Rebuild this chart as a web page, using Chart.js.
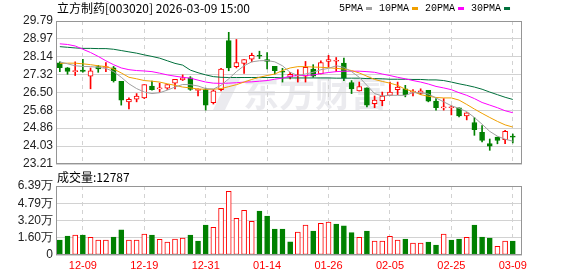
<!DOCTYPE html>
<html>
<head>
<meta charset="utf-8">
<script src="https://cdn.jsdelivr.net/npm/chart.js@4"></script>
<style>
body { margin: 0; background: #fff; }
#wrap { position: relative; width: 578px; height: 276px; }
canvas { position: absolute; left: 0; top: 0; }
</style>
</head>
<body>
<div id="wrap">
  <canvas id="priceChart" width="578" height="276"></canvas>
  <canvas id="volChart" width="578" height="276"></canvas>
</div>
<script>
// trading days
var dates = ['12-04','12-05','12-08','12-09','12-10','12-11','12-12','12-15','12-16','12-17',
  '12-18','12-19','12-22','12-23','12-24','12-25','12-26','12-29','12-30','12-31',
  '01-05','01-06','01-07','01-08','01-09','01-12','01-13','01-14','01-15','01-16',
  '01-19','01-20','01-21','01-22','01-23','01-26','01-27','01-28','01-29','01-30',
  '02-02','02-03','02-04','02-05','02-06','02-09','02-10','02-11','02-12','02-13',
  '02-24','02-25','02-26','02-27','03-02','03-03','03-04','03-05','03-06','03-09'];

var open = [27.87,27.63,27.46,27.53,27.25,27.69,27.65,27.63,27.01,26.07,
  26.19,26.25,26.80,26.67,26.70,26.93,27.08,27.17,26.60,26.64,
  26.03,26.63,28.89,27.69,27.84,28.03,28.20,28.02,27.70,27.46,
  27.20,27.27,27.25,27.58,27.35,27.93,27.94,27.85,26.96,26.57,
  26.72,25.99,26.12,26.37,26.63,26.67,26.52,26.46,26.60,26.10,
  25.79,25.80,25.80,25.42,25.12,24.67,24.15,24.45,24.33,24.48];
var high = [27.91,27.65,27.91,28.03,27.63,27.75,27.88,27.70,27.01,26.25,
  26.45,26.86,27.02,26.93,26.87,27.11,27.31,27.23,26.67,26.70,
  26.64,27.61,29.27,28.94,28.02,28.31,28.40,28.34,27.70,27.61,
  27.43,27.55,27.93,27.78,27.96,28.21,28.11,28.08,27.05,26.98,
  26.72,26.34,26.52,26.98,26.98,26.83,26.64,26.67,26.60,26.22,
  26.22,25.89,25.80,25.57,25.35,24.98,24.36,24.45,24.76,24.59];
var low = [27.46,27.34,27.28,27.44,26.67,27.43,27.46,26.98,25.92,25.74,
  26.07,26.22,26.61,26.52,26.64,26.67,27.05,26.60,26.34,25.69,
  25.97,26.57,27.50,27.63,27.38,27.91,28.06,27.58,27.35,26.98,
  27.13,26.98,26.98,27.20,27.35,27.66,27.47,27.05,26.45,26.57,
  25.84,25.80,25.89,26.37,26.40,26.30,26.34,26.40,26.07,25.69,
  25.69,25.47,25.38,25.24,24.53,24.23,23.84,24.14,24.14,24.18];
var close = [27.64,27.47,27.48,27.47,27.50,27.58,27.68,27.04,26.15,26.18,
  26.34,26.86,26.63,26.70,26.87,27.11,27.17,26.64,26.63,25.92,
  26.58,27.58,27.63,27.88,28.02,28.21,28.17,27.93,27.50,27.43,
  27.34,27.29,27.66,27.25,27.88,28.02,27.96,27.16,26.67,26.77,
  25.92,26.15,26.34,26.52,26.75,26.40,26.53,26.58,26.10,25.80,
  25.81,25.82,25.42,25.57,24.79,24.29,24.03,24.29,24.71,24.45];

var ma5 = [27.91,27.82,27.73,27.70,27.69,27.66,27.61,27.46,27.20,26.90,
  26.68,26.52,26.45,26.49,26.61,26.75,26.87,26.86,26.80,26.68,
  26.66,26.83,27.13,27.46,27.73,27.91,27.96,27.97,27.91,27.73,
  27.43,27.28,27.35,27.43,27.55,27.61,27.73,27.66,27.46,27.20,
  26.83,26.45,26.34,26.37,26.37,26.37,26.49,26.49,26.43,26.25,
  26.07,25.89,25.77,25.62,25.35,25.04,24.71,24.49,24.35,24.26];
var ma10 = [27.84,27.85,27.85,27.82,27.78,27.73,27.69,27.58,27.40,27.20,
  27.13,27.05,27.02,26.98,26.90,26.83,26.75,26.71,26.66,26.65,
  26.65,26.68,26.77,26.86,26.98,27.10,27.20,27.28,27.35,27.51,
  27.63,27.69,27.69,27.67,27.66,27.64,27.61,27.58,27.51,27.40,
  27.25,27.10,27.01,26.93,26.83,26.65,26.55,26.40,26.33,26.27,
  26.25,26.25,26.15,25.95,25.74,25.54,25.35,25.17,25.01,24.91];
var ma20 = [28.74,28.71,28.64,28.49,28.34,28.16,27.96,27.78,27.63,27.55,
  27.51,27.49,27.46,27.39,27.31,27.25,27.20,27.16,27.07,26.98,
  26.93,26.92,26.93,26.95,26.98,26.99,27.02,27.05,27.11,27.16,
  27.25,27.28,27.28,27.31,27.37,27.42,27.46,27.48,27.48,27.48,
  27.46,27.43,27.35,27.28,27.20,27.13,27.05,26.98,26.89,26.78,
  26.71,26.63,26.49,26.37,26.22,26.04,25.92,25.80,25.66,25.57];
var ma30 = [28.61,28.58,28.55,28.53,28.53,28.52,28.52,28.49,28.43,28.37,
  28.31,28.23,28.16,28.08,27.96,27.84,27.76,27.53,27.41,27.31,
  27.23,27.20,27.19,27.19,27.19,27.19,27.19,27.19,27.19,27.17,
  27.17,27.17,27.17,27.17,27.17,27.17,27.16,27.16,27.16,27.16,
  27.14,27.14,27.13,27.11,27.11,27.11,27.10,27.10,27.08,27.08,
  27.05,26.98,26.90,26.83,26.75,26.65,26.52,26.40,26.28,26.18];

var volume = [13900,17600,18500,18500,16400,13900,13900,16700,23200,13900,
  13900,19400,18500,14500,12000,14800,15700,18500,13000,27800,
  25600,43200,59000,34000,41400,31200,40700,36100,24100,24100,
  12300,21300,27800,22200,29300,30600,28700,26900,20700,16400,
  22200,13000,13000,17300,13900,14800,11100,11100,12000,9300,
  19400,13900,14800,16400,27800,16700,15700,8000,13000,12787];
// 1 = red hollow volume bar, 0 = green filled
var volUp = [0,0,1,0,1,1,1,0,0,1, 1,1,0,1,1,1,1,0,0,0,
  1,1,1,1,1,1,0,0,0,0, 0,1,1,0,1,1,0,0,0,1,
  0,1,1,1,1,0,1,1,0,0, 1,0,0,1,0,0,0,1,1,0];

var priceTicks = [23.21, 24.03, 24.86, 25.68, 26.50, 27.32, 28.14, 28.97, 29.79];
var volTicks = [0, 15975, 31950, 47925, 63900];
var volTickLabels = ['0', '1.60万', '3.20万', '4.79万', '6.39万'];
var dateTickIdx = [3, 11, 19, 27, 35, 43, 51, 59];

var maNames = ['5PMA', '10PMA', '20PMA', '30PMA'];
var maColors = ['#a0a0a0', '#f0a000', '#ff00ff', '#00703c'];

var RED = '#ff0000';
var GREEN = '#008000';
var GRID = '#d2d2d2';

var idx = dates.map((d, i) => i);
var isUp = close.map((c, i) => c >= open[i]);

var frame = {
    id: 'frame',
    afterDraw: (chart) => {
        var a = chart.chartArea;
        var ctx = chart.ctx;
        ctx.save();
        ctx.strokeStyle = '#959595';
        ctx.lineWidth = 1;
        ctx.strokeRect(Math.round(a.left) + 0.5, Math.round(a.top) + 0.5,
            Math.round(a.right - a.left) - 1, Math.round(a.bottom - a.top) - 1);
        ctx.restore();
    }
};

var header = {
    id: 'header',
    beforeDraw: (chart) => {
        var ctx = chart.ctx;
        ctx.save();
        // watermark: logo stroke + name
        ctx.fillStyle = 'rgba(210,210,220,0.45)';
        ctx.beginPath();
        ctx.moveTo(229, 77);
        ctx.lineTo(241, 77);
        ctx.lineTo(225, 110);
        ctx.lineTo(213, 110);
        ctx.closePath();
        ctx.fill();
        ctx.font = 'bold 36px "Noto Sans CJK SC"';
        ctx.textBaseline = 'middle';
        ctx.fillText('东方财富', 243, 93);
        ctx.restore();
    },
    afterDraw: (chart) => {
        var ctx = chart.ctx;
        ctx.save();
        ctx.textBaseline = 'middle';
        ctx.fillStyle = '#000';
        ctx.font = '12px "Noto Sans CJK SC"';
        ctx.fillText('立方制药[003020] 2026-03-09 15:00', 57, 8);
        ctx.font = '10px "Liberation Mono"';
        var x = 339;
        for (let i = 0; i < maNames.length; i++) {
            ctx.fillStyle = '#000';
            ctx.fillText(maNames[i], x, 8);
            x += ctx.measureText(maNames[i]).width + 3;
            ctx.fillStyle = maColors[i];
            ctx.fillRect(x, 7, 6, 3);
            x += 6 + 7;
        }
        ctx.restore();
    }
};

var maSets = [ma5, ma10, ma20, ma30].map((arr, k) => ({
    type: 'line',
    data: idx.map(i => ({ x: i, y: arr[i] })),
    borderColor: maColors[k],
    borderWidth: 1,
    pointRadius: 0,
    tension: 0,
    order: 0
}));

var ctx1 = document.getElementById('priceChart').getContext('2d');
var priceChart = new Chart(ctx1, {
    type: 'bar',
    data: {
        datasets: maSets.concat([{
            label: 'body',
            data: idx.map(i => ({ x: i, y: [open[i], close[i]] })),
            backgroundColor: isUp.map(u => u ? '#fff' : GREEN),
            borderColor: isUp.map(u => u ? RED : GREEN),
            borderWidth: 1,
            borderSkipped: false,
            barThickness: 5,
            minBarLength: 1,
            grouped: false,
            order: 1
        }, {
            label: 'wick',
            data: idx.map(i => ({ x: i, y: [low[i], high[i]] })),
            backgroundColor: isUp.map(u => u ? RED : GREEN),
            borderWidth: 0,
            barThickness: 1,
            grouped: false,
            order: 2
        }])
    },
    options: {
        responsive: false,
        animation: false,
        layout: { padding: { top: 21, bottom: 112, left: 0, right: 56 } },
        plugins: { legend: { display: false }, tooltip: { enabled: false } },
        scales: {
            x: {
                type: 'linear',
                offset: false,
                min: -0.5,
                max: 60.2,
                afterBuildTicks: (s) => { s.ticks = dateTickIdx.map(v => ({ value: v })); },
                afterFit: (s) => { s.height = 0; },
                ticks: { display: false, autoSkip: false },
                grid: { color: GRID, drawTicks: false, offset: false },
                border: { display: false, dash: [4, 4] }
            },
            y: {
                min: 23.21,
                max: 29.79,
                afterBuildTicks: (s) => { s.ticks = priceTicks.map(v => ({ value: v })); },
                afterFit: (s) => { s.width = 56; },
                ticks: {
                    autoSkip: false,
                    padding: 3,
                    color: '#222',
                    font: { family: 'Liberation Sans', size: 12 },
                    callback: (v) => v.toFixed(2)
                },
                grid: { color: GRID, drawTicks: false },
                border: { display: false }
            }
        }
    },
    plugins: [header, frame]
});

var volLabel = {
    id: 'volLabel',
    afterDraw: (chart) => {
        var ctx = chart.ctx;
        ctx.save();
        ctx.textBaseline = 'middle';
        ctx.fillStyle = '#000';
        ctx.font = '12px "Noto Sans CJK SC"';
        ctx.fillText('成交量:' + volume[volume.length - 1], 57, 177);
        ctx.restore();
    }
};

var ctx2 = document.getElementById('volChart').getContext('2d');
var volChart = new Chart(ctx2, {
    type: 'bar',
    data: {
        datasets: [{
            data: idx.map(i => ({ x: i, y: volume[i] })),
            backgroundColor: volUp.map(u => u ? '#fff' : GREEN),
            borderColor: volUp.map(u => u ? RED : GREEN),
            borderWidth: 1,
            borderSkipped: false,
            barThickness: 5
        }]
    },
    options: {
        responsive: false,
        animation: false,
        layout: { padding: { top: 186, bottom: 0, left: 0, right: 56 } },
        plugins: { legend: { display: false }, tooltip: { enabled: false } },
        scales: {
            x: {
                type: 'linear',
                offset: false,
                min: -0.5,
                max: 60.2,
                afterBuildTicks: (s) => { s.ticks = dateTickIdx.map(v => ({ value: v })); },
                afterFit: (s) => { s.height = 21; },
                ticks: {
                    autoSkip: false,
                    maxRotation: 0,
                    padding: 4,
                    color: RED,
                    font: { family: 'Liberation Sans', size: 11 },
                    callback: (v) => dates[v]
                },
                grid: { color: GRID, drawTicks: false, offset: false },
                border: { display: false, dash: [4, 4] }
            },
            y: {
                min: 0,
                max: 63900,
                afterBuildTicks: (s) => { s.ticks = volTicks.map(v => ({ value: v })); },
                afterFit: (s) => { s.width = 56; },
                ticks: {
                    autoSkip: false,
                    padding: 3,
                    color: '#222',
                    font: { family: 'Liberation Sans', size: 12 },
                    callback: (v, i) => volTickLabels[i]
                },
                grid: { color: GRID, drawTicks: false },
                border: { display: false }
            }
        }
    },
    plugins: [volLabel, frame]
});
</script>
</body>
</html>
